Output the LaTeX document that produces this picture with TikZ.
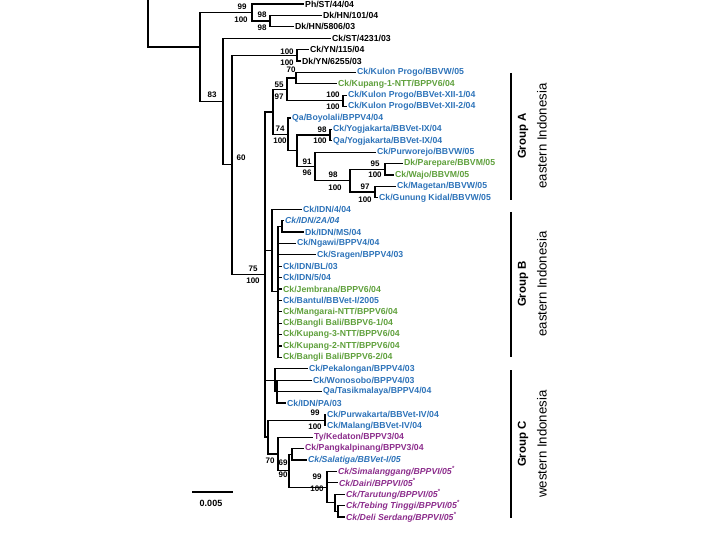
\documentclass[tikz,border=0pt]{standalone}
\usepackage{fontspec}
\setmainfont{Liberation Sans}
\definecolor{cblue}{RGB}{45,115,185}
\definecolor{cgreen}{RGB}{95,160,60}
\definecolor{cpurp}{RGB}{140,45,140}
\newcommand\leafnode[4]{\node[leaf,#2] (L#1) at (#3,{4+11.4*#1}) {#4};}
\begin{document}
\begin{tikzpicture}[x=1pt,y=-1pt,
  br/.style={line width=1.2pt},
  leaf/.style={anchor=west, inner sep=1pt, font=\fontsize{8.7}{10}\selectfont\bfseries},
  bs/.style={inner sep=0pt, font=\fontsize{8}{9}\selectfont\bfseries},
  blk/.style={text=black}, blu/.style={text=cblue}, grn/.style={text=cgreen}, pur/.style={text=cpurp},
  it/.style={font=\fontsize{8.7}{10}\selectfont\bfseries\itshape},
  grp/.style={rotate=90, inner sep=0pt, font=\fontsize{11.5}{14}\selectfont\bfseries},
  reg/.style={rotate=90, inner sep=0pt, font=\fontsize{13.2}{15}\selectfont},
  bar/.style={line width=1.3pt}]
\useasboundingbox (0,0) rectangle (720,540);
% leaves
\leafnode{0}{blk}{304}{Ph/ST/44/04}
\leafnode{1}{blk}{322}{Dk/HN/101/04}
\leafnode{2}{blk}{294}{Dk/HN/5806/03}
\leafnode{3}{blk}{331}{Ck/ST/4231/03}
\leafnode{4}{blk}{309}{Ck/YN/115/04}
\leafnode{5}{blk}{301}{Dk/YN/6255/03}
\leafnode{6}{blu}{356}{Ck/Kulon Progo/BBVW/05}
\leafnode{7}{grn}{337}{Ck/Kupang-1-NTT/BPPV6/04}
\leafnode{8}{blu}{347}{Ck/Kulon Progo/BBVet-XII-1/04}
\leafnode{9}{blu}{347}{Ck/Kulon Progo/BBVet-XII-2/04}
\leafnode{10}{blu}{291}{Qa/Boyolali/BPPV4/04}
\leafnode{11}{blu}{332}{Ck/Yogjakarta/BBVet-IX/04}
\leafnode{12}{blu}{332}{Qa/Yogjakarta/BBVet-IX/04}
\leafnode{13}{blu}{376}{Ck/Purworejo/BBVW/05}
\leafnode{14}{grn}{403}{Dk/Parepare/BBVM/05}
\leafnode{15}{grn}{394}{Ck/Wajo/BBVM/05}
\leafnode{16}{blu}{396}{Ck/Magetan/BBVW/05}
\leafnode{17}{blu}{378}{Ck/Gunung Kidal/BBVW/05}
\leafnode{18}{blu}{302}{Ck/IDN/4/04}
\leafnode{19}{blu,it}{284}{Ck/IDN/2A/04}
\leafnode{20}{blu}{304}{Dk/IDN/MS/04}
\leafnode{21}{blu}{296}{Ck/Ngawi/BPPV4/04}
\leafnode{22}{blu}{316}{Ck/Sragen/BPPV4/03}
\leafnode{23}{blu}{282}{Ck/IDN/BL/03}
\leafnode{24}{blu}{282}{Ck/IDN/5/04}
\leafnode{25}{grn}{282}{Ck/Jembrana/BPPV6/04}
\leafnode{26}{blu}{282}{Ck/Bantul/BBVet-I/2005}
\leafnode{27}{grn}{282}{Ck/Mangarai-NTT/BPPV6/04}
\leafnode{28}{grn}{282}{Ck/Bangli Bali/BBPV6-1/04}
\leafnode{29}{grn}{282}{Ck/Kupang-3-NTT/BPPV6/04}
\leafnode{30}{grn}{282}{Ck/Kupang-2-NTT/BPPV6/04}
\leafnode{31}{grn}{282}{Ck/Bangli Bali/BPPV6-2/04}
\leafnode{32}{blu}{308}{Ck/Pekalongan/BPPV4/03}
\leafnode{33}{blu}{312}{Ck/Wonosobo/BPPV4/03}
\leafnode{34}{blu}{322}{Qa/Tasikmalaya/BPPV4/04}
\leafnode{35}{blu}{286}{Ck/IDN/PA/03}
\leafnode{36}{blu}{326}{Ck/Purwakarta/BBVet-IV/04}
\leafnode{37}{blu}{326}{Ck/Malang/BBVet-IV/04}
\leafnode{38}{pur}{313}{Ty/Kedaton/BPPV3/04}
\leafnode{39}{pur}{304}{Ck/Pangkalpinang/BPPV3/04}
\leafnode{40}{blu,it}{307}{Ck/Salatiga/BBVet-I/05}
\leafnode{41}{pur,it}{337}{Ck/Simalanggang/BPPVI/05\textsuperscript{*}}
\leafnode{42}{pur,it}{338}{Ck/Dairi/BPPVI/05\textsuperscript{*}}
\leafnode{43}{pur,it}{345}{Ck/Tarutung/BPPVI/05\textsuperscript{*}}
\leafnode{44}{pur,it}{345}{Ck/Tebing Tinggi/BPPVI/05\textsuperscript{*}}
\leafnode{45}{pur,it}{345}{Ck/Deli Serdang/BPPVI/05\textsuperscript{*}}
% internal nodes
\coordinate (top) at (148,0);
\coordinate (nR0) at (148,47);
\coordinate (nR) at (200,47);
\coordinate (n98) at (270,21.1);
\coordinate (n99) at (252,12.55);
\coordinate (nYN) at (297,55.3);
\coordinate (n70) at (296,78.1);
\coordinate (nXII) at (343,100.9);
\coordinate (n55) at (287,89.5);
\coordinate (nYog) at (330,135.1);
\coordinate (n95) at (385,169.3);
\coordinate (n97) at (375,192.1);
\coordinate (n98b) at (350,180.7);
\coordinate (n91) at (315,166.45);
\coordinate (nX) at (297,150.8);
\coordinate (n74) at (288,134.4);
\coordinate (nA) at (273,111.95);
\coordinate (n2A) at (282,226.3);
\coordinate (nB2) at (278,291.85);
\coordinate (nB) at (272,250.5);
\coordinate (nQ) at (277,391.6);
\coordinate (nP) at (275,380.2);
\coordinate (nPM) at (325,420.1);
\coordinate (nTD) at (338,511.3);
\coordinate (nT) at (335,502.75);
\coordinate (n99c) at (327,487.1);
\coordinate (nPS) at (292,454.3);
\coordinate (n69) at (289,470.7);
\coordinate (nK) at (278,454);
\coordinate (nC) at (268,437.05);
\coordinate (n75) at (265,274.5);
\coordinate (n60) at (232,164.9);
\coordinate (n83) at (223,101.55);
% branches
\draw[br] (top) -- (nR0) -- (nR);
\draw[br] (nR) |- (n99); \draw[br] (nR) |- (n83);
\draw[br] (n99) |- (L0.west); \draw[br] (n99) |- (n98);
\draw[br] (n98) |- (L1.west); \draw[br] (n98) |- (L2.west);
\draw[br] (n83) |- (L3.west); \draw[br] (n83) |- (n60);
\draw[br] (n60) |- (nYN); \draw[br] (n60) |- (n75);
\draw[br] (nYN) |- (L4.west); \draw[br] (nYN) |- (L5.west);
\draw[br] (n75) |- (nA); \draw[br] (n75) |- (nB); \draw[br] (n75) |- (nP); \draw[br] (n75) |- (nC);
\draw[br] (nA) |- (n55); \draw[br] (nA) |- (n74);
\draw[br] (n55) |- (n70); \draw[br] (n55) |- (nXII);
\draw[br] (n70) |- (L6.west); \draw[br] (n70) |- (L7.west);
\draw[br] (nXII) |- (L8.west); \draw[br] (nXII) |- (L9.west);
\draw[br] (n74) |- (L10.west); \draw[br] (n74) |- (nX);
\draw[br] (nX) |- (nYog); \draw[br] (nX) |- (n91);
\draw[br] (nYog) |- (L11.west); \draw[br] (nYog) |- (L12.west);
\draw[br] (n91) |- (L13.west); \draw[br] (n91) |- (n98b);
\draw[br] (n98b) |- (n95); \draw[br] (n98b) |- (n97);
\draw[br] (n95) |- (L14.west); \draw[br] (n95) |- (L15.west);
\draw[br] (n97) |- (L16.west); \draw[br] (n97) |- (L17.west);
\draw[br] (nB) |- (L18.west); \draw[br] (nB) |- (nB2);
\draw[br] (nB2) |- (n2A);
\draw[br] (n2A) |- (L19.west); \draw[br] (n2A) |- (L20.west);
\foreach \i in {21,...,31} {\draw[br] (nB2) |- (L\i.west);}
\draw[br] (nC) |- (nPM); \draw[br] (nC) |- (nK);
\draw[br] (nP) |- (L32.west); \draw[br] (nP) |- (nQ);
\draw[br] (nQ) |- (L33.west); \draw[br] (nQ) |- (L34.west); \draw[br] (nQ) |- (L35.west);
\draw[br] (nPM) |- (L36.west); \draw[br] (nPM) |- (L37.west);
\draw[br] (nK) |- (L38.west); \draw[br] (nK) |- (n69);
\draw[br] (n69) |- (nPS); \draw[br] (n69) |- (n99c);
\draw[br] (nPS) |- (L39.west); \draw[br] (nPS) |- (L40.west);
\draw[br] (n99c) |- (L41.west); \draw[br] (n99c) |- (L42.west); \draw[br] (n99c) |- (nT);
\draw[br] (nT) |- (L43.west); \draw[br] (nT) |- (nTD);
\draw[br] (nTD) |- (L44.west); \draw[br] (nTD) |- (L45.west);
% bootstrap values
\node[bs] (b1) at (242,7) {99}; \node[bs] (b2) at (241,20) {100};
\node[bs] (b3) at (262,15) {98}; \node[bs] (b4) at (262,28) {98};
\node[bs] (b5) at (212,95) {83};
\node[bs] (b6) at (287,52) {100}; \node[bs] (b7) at (287,63) {100};
\node[bs] (b8) at (241,158) {60};
\node[bs] (b9) at (291,70) {70};
\node[bs] (b10) at (279,85) {55}; \node[bs] (b11) at (279,97) {97};
\node[bs] (b12) at (333,95) {100}; \node[bs] (b13) at (333,107) {100};
\node[bs] (b14) at (280,129) {74}; \node[bs] (b15) at (280,141) {100};
\node[bs] (b16) at (322,130) {98}; \node[bs] (b17) at (320,141) {100};
\node[bs] (b18) at (307,162) {91}; \node[bs] (b19) at (307,173) {96};
\node[bs] (b20) at (333,175) {98}; \node[bs] (b21) at (335,188) {100};
\node[bs] (b22) at (375,164) {95}; \node[bs] (b23) at (375,175) {100};
\node[bs] (b24) at (365,187) {97}; \node[bs] (b25) at (365,200) {100};
\node[bs] (b26) at (253,269) {75}; \node[bs] (b27) at (253,281) {100};
\node[bs] (b28) at (315,413) {99}; \node[bs] (b29) at (315,427) {100};
\node[bs] (b30) at (270,461) {70}; \node[bs] (b31) at (283,463) {69}; \node[bs] (b32) at (283,475) {90};
\node[bs] (b33) at (317,477) {99}; \node[bs] (b34) at (317,489) {100};
% group bars and labels
\coordinate (gAt) at (511,73); \coordinate (gAb) at (511,200);
\coordinate (gBt) at (511,212); \coordinate (gBb) at (511,357);
\coordinate (gCt) at (511,370); \coordinate (gCb) at (511,518);
\draw[bar] (gAt) -- (gAb); \draw[bar] (gBt) -- (gBb); \draw[bar] (gCt) -- (gCb);
\node[grp] (gA1) at (523,136) {Group A}; \node[reg] (gA2) at (542,136) {eastern Indonesia};
\node[grp] (gB1) at (523,284) {Group B}; \node[reg] (gB2) at (542,284) {eastern Indonesia};
\node[grp] (gC1) at (523,444) {Group C}; \node[reg] (gC2) at (542,444) {western Indonesia};
% scale bar
\coordinate (s1) at (192,492); \coordinate (s2) at (233,492);
\draw[bar] (s1) -- (s2);
\node[bs, font=\fontsize{9}{10}\selectfont\bfseries] (sl) at (211,503) {0.005};
\end{tikzpicture}
\end{document}
